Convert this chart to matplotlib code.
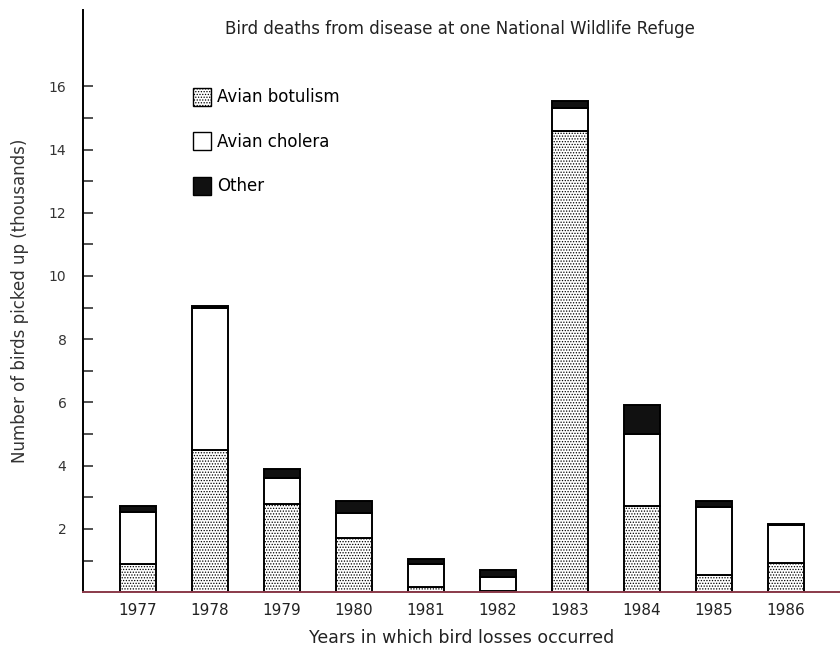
import numpy as np
import matplotlib
matplotlib.use("Agg")
import matplotlib.pyplot as plt
from matplotlib.patches import Patch

years = ["1977", "1978", "1979", "1980", "1981", "1982", "1983", "1984", "1985", "1986"]
botulism = [0.9, 4.5, 2.8, 1.7, 0.15, 0.03, 14.6, 2.72, 0.54, 0.91]
cholera = [1.63, 4.5, 0.82, 0.8, 0.73, 0.45, 0.7, 2.28, 2.15, 1.21]
other = [0.2, 0.05, 0.27, 0.37, 0.18, 0.21, 0.22, 0.93, 0.2, 0.03]

plt.rcParams['font.family'] = ['DejaVu Sans']
plt.rcParams['hatch.linewidth'] = 0.6
plt.rcParams['hatch.color'] = '#555555'

fig = plt.figure(figsize=(8.4, 6.5), dpi=100)
ax = fig.add_axes([0.099, 0.089, 0.901, 0.895])

x = np.arange(len(years))
bot = np.array(botulism)
cho = np.array(cholera)
oth = np.array(other)
w = 0.51
ax.bar(x, bot, w, color='white', edgecolor='black', hatch='......', linewidth=1.4)
ax.bar(x, cho, w, bottom=bot, color='white', edgecolor='black', linewidth=1.4)
ax.bar(x, oth, w, bottom=bot + cho, color='#111111', edgecolor='black', linewidth=1.4)

ax.set_xlim(-0.76, 9.75)
ax.set_ylim(0, 18.4)
ax.set_yticks(range(2, 17, 2))
ax.set_yticks(range(1, 16, 2), minor=True)
ax.tick_params(axis='y', which='both', direction='in', length=7, width=1.2, pad=12, labelsize=10, colors='#333333')
ax.set_xticks(x)
ax.set_xticklabels(years)
ax.tick_params(axis='x', length=0, pad=8, labelsize=11, colors='#222222')

for s in ['top', 'right']:
    ax.spines[s].set_visible(False)
ax.spines['left'].set_linewidth(1.4)
ax.spines['bottom'].set_linewidth(1.4)
ax.spines['bottom'].set_color('#8a3a4a')

ax.set_ylabel('Number of birds picked up (thousands)', fontsize=12, color='#333333', labelpad=14)
ax.set_xlabel('Years in which bird losses occurred', fontsize=12.5, color='#222222', labelpad=8)
fig.text(0.548, 0.955, 'Bird deaths from disease at one National Wildlife Refuge',
         ha='center', va='center', fontsize=12, color='#222222')

handles = [Patch(facecolor='white', edgecolor='black', hatch='......', label='Avian botulism'),
           Patch(facecolor='white', edgecolor='black', label='Avian cholera'),
           Patch(facecolor='#111111', edgecolor='black', label='Other')]
fig.legend(handles=handles, loc='upper left', bbox_to_anchor=(0.212, 0.888), frameon=False,
           handlelength=1.1, handleheight=1.3, handletextpad=0.35, labelspacing=1.55, fontsize=12)

fig.savefig('out.png', dpi=100)
